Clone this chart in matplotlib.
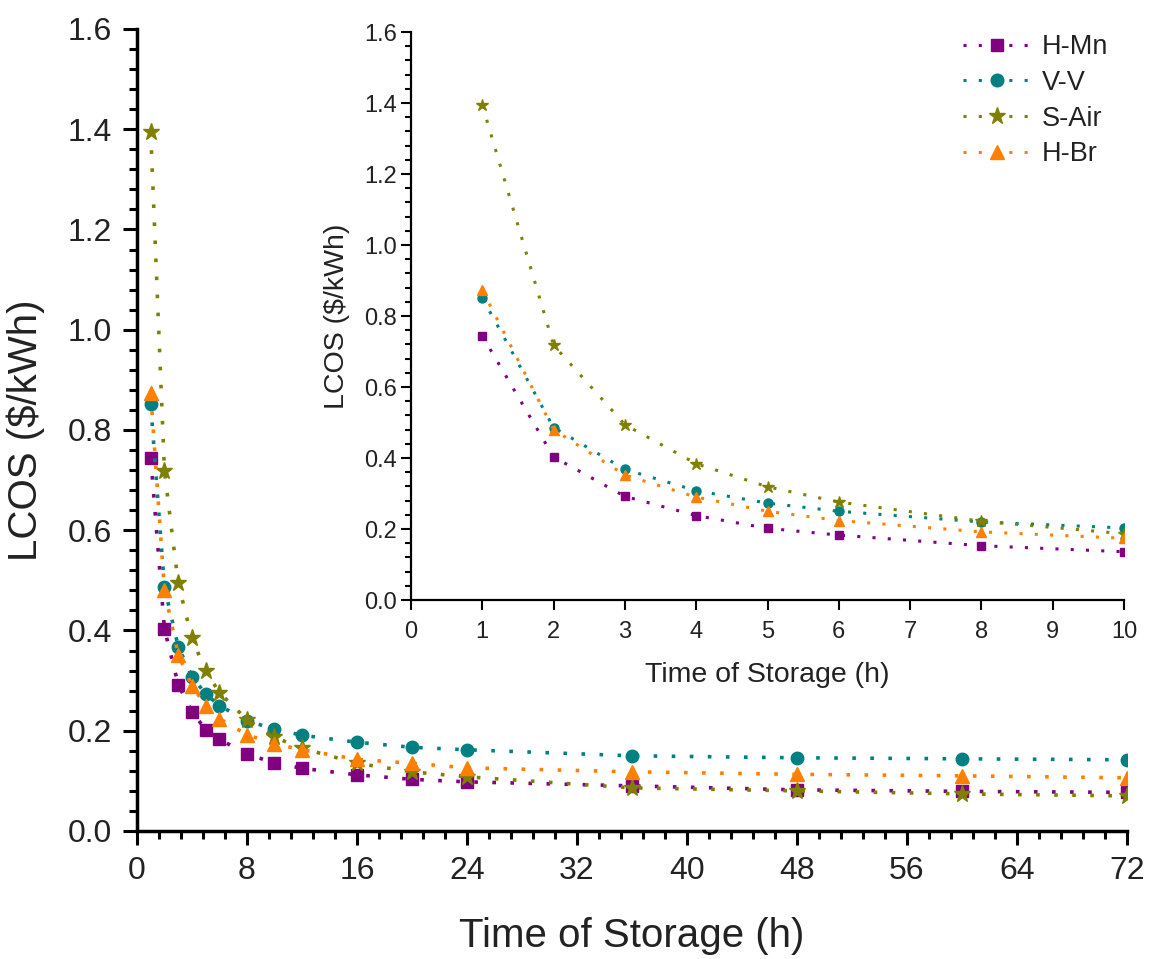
import matplotlib
matplotlib.use("Agg")
import matplotlib.pyplot as plt
from matplotlib.ticker import MultipleLocator, AutoMinorLocator, FormatStrFormatter

plt.rcParams['font.family'] = ['Liberation Sans', 'DejaVu Sans']

# Storage durations (h)
hours = [1, 2, 3, 4, 5, 6, 8, 10, 12, 16, 20, 24, 36, 48, 60, 72]

# Levelized cost of storage ($/kWh) per chemistry
lcos_h_mn = [0.744, 0.403, 0.292, 0.238, 0.202, 0.183, 0.153, 0.136,
             0.125, 0.112, 0.103, 0.098, 0.090, 0.082, 0.079, 0.077]
lcos_v_v = [0.851, 0.486, 0.368, 0.308, 0.273, 0.250, 0.220, 0.203,
            0.191, 0.177, 0.167, 0.162, 0.150, 0.146, 0.144, 0.142]
lcos_s_air = [1.394, 0.718, 0.494, 0.384, 0.319, 0.276, 0.222, 0.187,
              0.165, 0.135, 0.118, 0.108, 0.086, 0.080, 0.074, 0.070]
lcos_h_br = [0.873, 0.480, 0.352, 0.290, 0.250, 0.224, 0.192, 0.174,
             0.162, 0.143, 0.135, 0.126, 0.118, 0.113, 0.110, 0.106]

series_names = ["H-Mn", "V-V", "S-Air", "H-Br"]
series_values = [lcos_h_mn, lcos_v_v, lcos_s_air, lcos_h_br]
colors = ["#800080", "#008080", "#808000", "#FF8000"]
markers = ["s", "o", "*", "^"]
main_sizes = [8.5, 9, 12.5, 9.5]
inset_sizes = [6, 6.5, 9, 7]

inset_max_hour = 10
text_color = "#222222"

fig = plt.figure(figsize=(11.5, 9.59), dpi=100)

# ---- main axes ----
ax = fig.add_axes([0.1191, 0.1335, 0.8609, 0.8363])
for name, vals, c, m, ms in zip(series_names, series_values, colors, markers, main_sizes):
    ax.plot(hours, vals, color=c, marker=m, markersize=ms, markeredgecolor=c,
            linestyle=(0, (1, 4)), linewidth=2.6, label=name)

ax.set_xlim(0, 72)
ax.set_ylim(0, 1.6)
ax.xaxis.set_major_locator(MultipleLocator(8))
ax.xaxis.set_minor_locator(AutoMinorLocator(5))
ax.yaxis.set_major_locator(MultipleLocator(0.2))
ax.yaxis.set_minor_locator(AutoMinorLocator(5))
ax.yaxis.set_major_formatter(FormatStrFormatter('%.1f'))
for side in ("top", "right"):
    ax.spines[side].set_visible(False)
for side in ("left", "bottom"):
    ax.spines[side].set_linewidth(2.5)
ax.tick_params(which="major", direction="out", length=10, width=2.2,
               labelsize=23, labelcolor=text_color)
ax.tick_params(axis="x", which="major", pad=8)
ax.tick_params(axis="y", which="major", pad=8)
ax.tick_params(which="minor", direction="out", length=6, width=2.2)
ax.set_xlabel("Time of Storage (h)", fontsize=29, color=text_color, labelpad=22)
ax.set_ylabel("LCOS ($/kWh)", fontsize=29, color=text_color, labelpad=16)

# ---- inset axes: first ten hours ----
ins = fig.add_axes([0.3574, 0.3743, 0.62, 0.5923])
n_in = sum(1 for h in hours if h <= inset_max_hour)
for name, vals, c, m, ms in zip(series_names, series_values, colors, markers, inset_sizes):
    ins.plot(hours[:n_in], vals[:n_in], color=c, marker=m, markersize=ms,
             markeredgecolor=c, linestyle=(0, (1, 4)), linewidth=2.2, label=name)

ins.set_xlim(0, 10)
ins.set_ylim(0, 1.6)
ins.xaxis.set_major_locator(MultipleLocator(1))
ins.yaxis.set_major_locator(MultipleLocator(0.2))
ins.yaxis.set_minor_locator(AutoMinorLocator(5))
ins.yaxis.set_major_formatter(FormatStrFormatter('%.1f'))
for side in ("top", "right"):
    ins.spines[side].set_visible(False)
for side in ("left", "bottom"):
    ins.spines[side].set_linewidth(1.6)
ins.tick_params(which="major", direction="out", length=7, width=1.5,
                labelsize=17, labelcolor=text_color)
ins.tick_params(axis="x", which="major", pad=8)
ins.tick_params(axis="y", which="major", pad=3)
ins.tick_params(which="minor", direction="out", length=4.5, width=1.5)
ins.set_xlabel("Time of Storage (h)", fontsize=20.5, color=text_color, labelpad=14)
ins.set_ylabel("LCOS ($/kWh)", fontsize=20.5, color=text_color, labelpad=10)

leg = ins.legend(loc="upper right", bbox_to_anchor=(1.0, 1.025), frameon=False,
                 fontsize=19.5, handlelength=2.5, handletextpad=0.4,
                 labelspacing=0.36, borderaxespad=0.2, markerscale=1.4)
for t in leg.get_texts():
    t.set_color(text_color)

fig.savefig("out.png", dpi=100)
